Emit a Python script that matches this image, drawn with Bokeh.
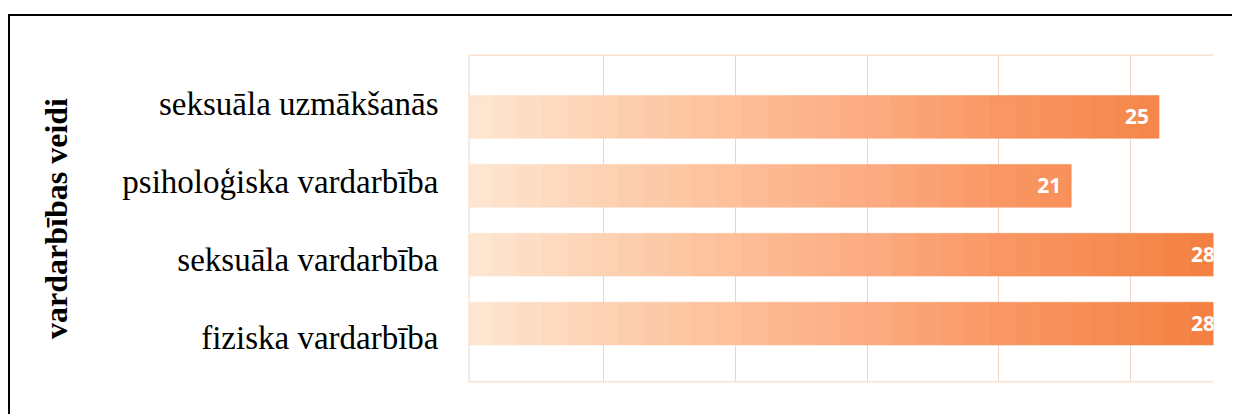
import numpy as np
from bokeh.plotting import figure
from bokeh.models import Range1d, LinearAxis, FixedTicker, Span, Grid, ColumnDataSource
from bokeh.core.properties import value
from bokeh.embed import file_html
from bokeh.resources import INLINE

# ---- data ----
categories = ["fiziska vardarbība", "seksuāla vardarbība",
              "psiholoģiska vardarbība", "seksuāla uzmākšanās"]
values = [28, 28, 21, 25]
axis_title = "vardarbības veidi"

# ---- layout / style ----
X_START, X_END = -6.45, 27.48
Y_START, Y_END = -0.855, 3.906
LABEL_RANGE = (-0.57, 3.635)
grid_x = [-0.30, 5.71, 11.72, 17.69, 23.70]
BAR_H = 0.62
N_SEG = 30
stops = [(0.00, (253, 231, 210)), (0.18, (253, 210, 180)), (0.31, (253, 196, 160)),
         (0.53, (252, 172, 130)), (0.72, (249, 150, 98)), (0.89, (245, 137, 78)),
         (1.00, (244, 128, 64))]


def grad_color(f):
    for (f0, c0), (f1, c1) in zip(stops[:-1], stops[1:]):
        if f <= f1:
            t = (f - f0) / (f1 - f0) if f1 > f0 else 0
            c = [round(a + (b - a) * t) for a, b in zip(c0, c1)]
            return "#%02x%02x%02x" % tuple(c)
    return "#%02x%02x%02x" % stops[-1][1]


p = figure(width=1224, height=400, tools="",
           x_range=Range1d(X_START, X_END), y_range=Range1d(Y_START, Y_END),
           output_backend="svg", toolbar_location=None,
           x_axis_location=None, y_axis_location=None,
           min_border_left=458, min_border_top=38, min_border_right=21, min_border_bottom=34)
p.title = None
p.toolbar.logo = None
p.styles = {"box-shadow": "-2px -2px 0px 0px black",
            "margin-left": "10px", "margin-top": "16px"}
p.outline_line_color = None
p.background_fill_color = "white"
p.border_fill_color = "white"
for g in p.grid:
    g.visible = False
grid = Grid(dimension=0, ticker=FixedTicker(ticks=grid_x),
            grid_line_color="#ecd6cc", grid_line_width=1)
p.add_layout(grid)

# gradient bars (stepped segments)
seg_w = (X_END - X_START) / N_SEG
ys, lefts, rights, cols = [], [], [], []
for i, v in enumerate(values):
    for k in range(N_SEG):
        l = X_START + k * seg_w
        if l >= v:
            break
        r = min(l + seg_w, v)
        ys.append(i)
        lefts.append(l)
        rights.append(r)
        cols.append(grad_color((k + 0.5) / N_SEG))
src = ColumnDataSource(dict(y=ys, left=lefts, right=rights, c=cols))
p.hbar(y="y", left="left", right="right", height=BAR_H, fill_color="c",
       line_color="c", line_width=0.6, source=src)

# value labels
lab = ColumnDataSource(dict(x=values, y=list(range(len(values))), t=[str(v) for v in values]))
p.text(x="x", y="y", text="t", source=lab, text_align="right", text_baseline="middle",
       x_offset=-10, text_color="white", text_font=value("Open Sans"),
       text_font_style="bold", text_font_size="21px")

# peach frame border (top, left, bottom)
for loc, dim in [(Y_END, "width"), (Y_START, "width"), (X_START, "height")]:
    p.add_layout(Span(location=loc, dimension=dim, line_color="#fbe3d0", line_width=3))

# category axis
p.extra_y_ranges = {"labels": Range1d(*LABEL_RANGE)}
ax = LinearAxis(y_range_name="labels", ticker=FixedTicker(ticks=list(range(len(categories)))),
                major_label_overrides={i: c for i, c in enumerate(categories)},
                axis_label=axis_title)
ax.axis_line_color = None
ax.major_tick_line_color = None
ax.minor_tick_line_color = None
ax.major_tick_out = 0
ax.major_tick_in = 0
ax.major_label_standoff = 30
ax.major_label_text_font = "Liberation Serif"
ax.major_label_text_font_size = "33px"
ax.major_label_text_color = "black"
ax.axis_label_text_font = "Liberation Serif"
ax.axis_label_text_font_style = "bold"
ax.axis_label_text_font_size = "32px"
ax.axis_label_text_color = "black"
ax.axis_label_standoff = 45
p.add_layout(ax, "left")

open("out.html", "w").write(file_html(p, INLINE))
